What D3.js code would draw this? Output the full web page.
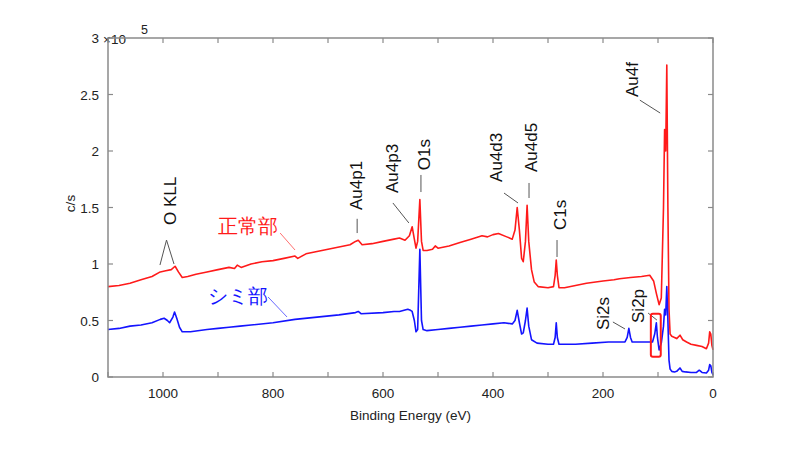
<!DOCTYPE html>
<html><head><meta charset="utf-8">
<script src="https://cdn.jsdelivr.net/npm/d3@7"></script>
<style>body{margin:0;background:#fff}svg{display:block}text{font-family:"Liberation Sans",Arial,sans-serif}</style>
</head><body><svg id="c" width="800" height="450"></svg>
<script>
// Binding energy (eV) and intensity (x1e5 c/s)
const redBE = [1100,1080,1060,1040,1020,1005,995,985,978,972,965,955,940,920,900,880,870,865,858,840,820,800,780,760,755,740,720,700,680,660,650,645,638,620,600,580,570,560,552,547,543,540,537,533,530,527,520,510,505,500,480,460,440,420,410,400,390,375,365,360,356,352,348,345,341,338,335,330,325,318,300,290,287,285,283,280,270,250,230,200,180,170,150,130,115,108,103,98,94,90,88,86,84,82,80,78,75,70,66,60,55,48,40,30,20,12,8,6,4,2,0];
const redVal = [0.80,0.81,0.83,0.86,0.89,0.93,0.94,0.95,0.98,0.93,0.88,0.89,0.91,0.93,0.95,0.97,0.96,0.99,0.97,1.00,1.02,1.03,1.05,1.07,1.05,1.09,1.11,1.13,1.15,1.17,1.20,1.21,1.17,1.18,1.20,1.22,1.23,1.21,1.25,1.33,1.22,1.14,1.20,1.57,1.20,1.12,1.12,1.13,1.16,1.14,1.16,1.19,1.22,1.25,1.24,1.26,1.27,1.24,1.22,1.30,1.50,1.30,1.05,1.02,1.20,1.52,1.20,0.95,0.84,0.80,0.79,0.80,0.90,1.035,0.90,0.79,0.79,0.81,0.83,0.85,0.86,0.87,0.88,0.89,0.90,0.85,0.74,0.64,0.70,1.50,2.19,2.00,2.76,1.50,0.60,0.38,0.36,0.35,0.34,0.37,0.33,0.31,0.29,0.28,0.27,0.25,0.30,0.40,0.38,0.28,0.24];
const blueBE = [1100,1080,1060,1040,1020,1005,998,992,988,982,979,975,970,965,950,920,900,880,860,840,800,760,720,680,650,645,640,600,580,570,555,550,547,543,540,537,533,530,527,520,500,480,460,440,420,400,380,365,360,356,352,348,345,341,338,335,330,320,300,290,287,285,283,280,250,220,190,175,160,156,153,150,147,130,115,110,106,103,101,98,94,90,88,86,84,82,80,78,75,70,66,60,56,50,40,30,25,20,12,8,6,4,2,0];
const blueVal = [0.42,0.43,0.45,0.46,0.48,0.51,0.52,0.50,0.48,0.53,0.575,0.52,0.44,0.40,0.40,0.42,0.43,0.44,0.45,0.46,0.48,0.51,0.53,0.55,0.57,0.58,0.56,0.57,0.58,0.58,0.60,0.59,0.58,0.50,0.40,0.42,1.13,0.50,0.42,0.41,0.42,0.43,0.44,0.45,0.46,0.47,0.48,0.47,0.50,0.59,0.48,0.38,0.39,0.50,0.61,0.45,0.33,0.30,0.29,0.29,0.35,0.48,0.35,0.29,0.29,0.30,0.31,0.31,0.31,0.35,0.43,0.35,0.31,0.31,0.31,0.31,0.38,0.48,0.35,0.24,0.30,0.45,0.60,0.55,0.80,0.50,0.15,0.07,0.05,0.045,0.05,0.08,0.05,0.045,0.04,0.04,0.06,0.04,0.035,0.06,0.11,0.10,0.04,0.02];
const xTicks = [1000,800,600,400,200,0];
const yTicks = [0,0.5,1,1.5,2,2.5,3];
// peak labels: text, text BE, text base value, leader BE1,v1,BE2,v2
const peakNames = ["O KLL","Au4p1","Au4p3","O1s","Au4d3","Au4d5","C1s","Si2s","Si2p","Au4f"];
const peakTextBE = [987,649,584,525,394.5,331,278,200,136,147];
const peakTextV = [1.345,1.478,1.628,1.83,1.726,1.814,1.30,0.416,0.478,2.478];
const leaders = [[993.6,1.212,1005.5,0.991],[993.6,1.212,980,1.0],[647,1.40,647,1.274],[582,1.54,553,1.363],[531,1.788,531,1.637],[380,1.628,354.5,1.54],[334.5,1.717,334.5,1.584],[283.6,1.212,283.6,1.062],[182,0.487,160,0.425],[118,0.566,102,0.504],[133,2.45,96,2.336]];
const seriesNames = ["正常部","シミ部"];
const seriesTextBE = [900,918];
const seriesTextV = [1.336,0.717];
const seriesLeaders = [[787,1.274,760,1.124],[809,0.708,774.5,0.531]];
const boxBE = [113,95];
const boxV = [0.56,0.18];

const svg = d3.select("#c");
const L=108,R=713,T=38,B=377;
const x = d3.scaleLinear().domain([1100,0]).range([L,R]);
const y = d3.scaleLinear().domain([0,3]).range([B,T]);
const axisCol="#8a8a8a", txtCol="#222";

// ticks inward
const allX = d3.range(0,1101,100);
svg.append("g").selectAll("line").data(allX).join("line")
  .attr("x1",d=>x(d)).attr("x2",d=>x(d)).attr("y1",B).attr("y2",B-5).attr("stroke",axisCol).attr("stroke-width",1.2);
svg.append("g").selectAll("line").data(allX).join("line")
  .attr("x1",d=>x(d)).attr("x2",d=>x(d)).attr("y1",T).attr("y2",T+5).attr("stroke",axisCol).attr("stroke-width",1.2);
svg.append("g").selectAll("line").data(yTicks).join("line")
  .attr("x1",L).attr("x2",L+5).attr("y1",d=>y(d)).attr("y2",d=>y(d)).attr("stroke",axisCol).attr("stroke-width",1.2);
svg.append("g").selectAll("line").data(yTicks).join("line")
  .attr("x1",R).attr("x2",R-5).attr("y1",d=>y(d)).attr("y2",d=>y(d)).attr("stroke",axisCol).attr("stroke-width",1.2);

// tick labels
svg.append("g").selectAll("text").data(xTicks).join("text")
  .attr("x",d=>x(d)).attr("y",B+21).attr("text-anchor","middle").attr("font-size",13.5).attr("fill",txtCol).text(d=>d);
svg.append("g").selectAll("text").data(yTicks).join("text")
  .attr("x",L-9).attr("y",d=>y(d)+5).attr("text-anchor","end").attr("font-size",13.5).attr("fill",txtCol).text(d=>d);
svg.append("text").attr("x",L-5).attr("y",T+6).attr("font-size",13.5).attr("fill",txtCol).text("×10");
svg.append("text").attr("x",L+33).attr("y",T-4).attr("font-size",12.5).attr("fill",txtCol).text("5");
svg.append("text").attr("x",(L+R)/2).attr("y",B+43).attr("text-anchor","middle").attr("font-size",13.5).attr("fill",txtCol).text("Binding Energy (eV)");
svg.append("text").attr("transform",`translate(${L-33},${(T+B)/2-4}) rotate(-90)`).attr("text-anchor","middle").attr("font-size",13.5).attr("fill",txtCol).text("c/s");

// curves
const line = d3.line().x(d=>x(d[0])).y(d=>y(d[1]));
const redData = redBE.map((b,i)=>[b,redVal[i]]);
const blueData = blueBE.map((b,i)=>[b,blueVal[i]]);
svg.append("path").datum(redData).attr("d",line).attr("fill","none").attr("stroke","#ff1a1a").attr("stroke-width",1.6).attr("stroke-linejoin","round");
svg.append("path").datum(blueData).attr("d",line).attr("fill","none").attr("stroke","#1414ff").attr("stroke-width",1.6).attr("stroke-linejoin","round");

// frame
svg.append("rect").attr("x",L).attr("y",T).attr("width",R-L).attr("height",B-T).attr("fill","none").attr("stroke",axisCol).attr("stroke-width",1.5);

// leaders
svg.append("g").selectAll("line").data(leaders).join("line")
  .attr("x1",d=>x(d[0])).attr("y1",d=>y(d[1])).attr("x2",d=>x(d[2])).attr("y2",d=>y(d[3]))
  .attr("stroke","#555").attr("stroke-width",1);
// peak labels
svg.append("g").selectAll("text").data(peakNames).join("text")
  .attr("transform",(d,i)=>`translate(${x(peakTextBE[i])+6},${y(peakTextV[i])}) rotate(-90)`)
  .attr("font-size",17).attr("fill","#111").text(d=>d);

// series labels
const sCol=["#ff1a1a","#1414ff"], sLead=["#ff7070","#6a6aff"];
svg.append("g").selectAll("line").data(seriesLeaders).join("line")
  .attr("x1",d=>x(d[0])).attr("y1",d=>y(d[1])).attr("x2",d=>x(d[2])).attr("y2",d=>y(d[3]))
  .attr("stroke",(d,i)=>sLead[i]).attr("stroke-width",1);
svg.append("g").selectAll("text").data(seriesNames).join("text")
  .attr("x",(d,i)=>x(seriesTextBE[i])).attr("y",(d,i)=>y(seriesTextV[i])+7)
  .attr("font-family","'Noto Sans CJK JP',sans-serif").attr("font-size",20).attr("fill",(d,i)=>sCol[i]).text(d=>d);

// highlight box
svg.append("rect").attr("x",x(boxBE[0])).attr("y",y(boxV[0])).attr("width",x(boxBE[1])-x(boxBE[0])).attr("height",y(boxV[1])-y(boxV[0]))
  .attr("rx",2).attr("fill","none").attr("stroke","#ff1a1a").attr("stroke-width",2);
</script></body></html>
